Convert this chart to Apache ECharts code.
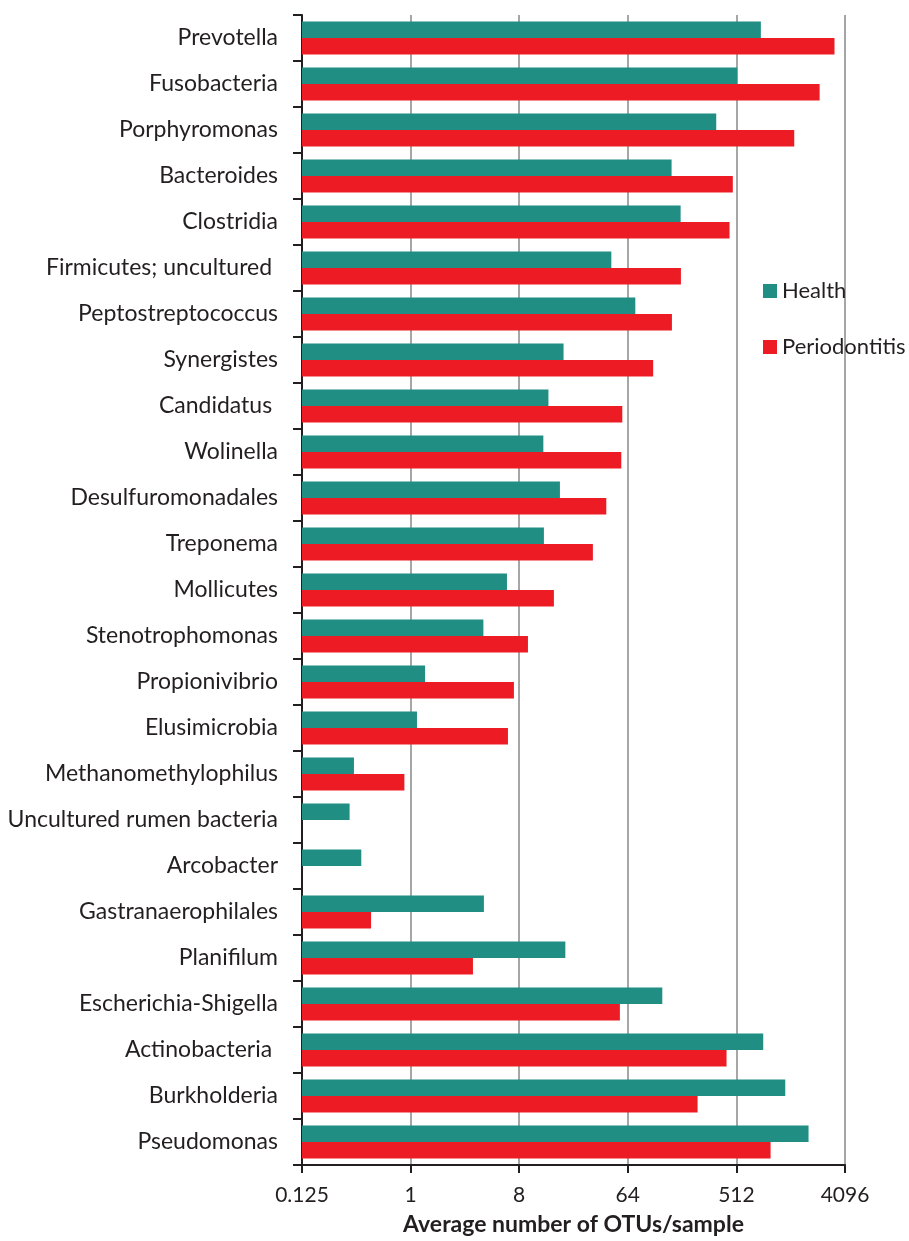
<!DOCTYPE html>
<html>
<head>
<meta charset="utf-8">
<script src="https://cdn.jsdelivr.net/npm/echarts@6/dist/echarts.min.js"></script>
<style>
  html, body { margin: 0; padding: 0; background: #ffffff; }
  #chart { width: 909px; height: 1241px; }
</style>
</head>
<body>
<div id="chart"></div>
<script>
// Genera, top to bottom
const categories = [
  'Prevotella', 'Fusobacteria', 'Porphyromonas', 'Bacteroides', 'Clostridia',
  'Firmicutes; uncultured ', 'Peptostreptococcus', 'Synergistes', 'Candidatus ',
  'Wolinella', 'Desulfuromonadales', 'Treponema', 'Mollicutes', 'Stenotrophomonas',
  'Propionivibrio', 'Elusimicrobia', 'Methanomethylophilus', 'Uncultured rumen bacteria',
  'Arcobacter', 'Gastranaerophilales', 'Planifilum', 'Escherichia-Shigella',
  'Actinobacteria ', 'Burkholderia', 'Pseudomonas'
];

// Average number of OTUs per sample
const health = [
  818, 520, 348, 148, 176,
  46.7, 73.9, 18.7, 14.0,
  12.7, 17.45, 12.84, 6.33, 4.03,
  1.32, 1.13, 0.338, 0.311,
  0.389, 4.07, 19.35, 123.9,
  856, 1305, 2038
];

const periodontitis = [
  3350, 2520, 1550, 478, 449,
  177, 149, 104, 57.6,
  56.5, 42.4, 32.8, 15.55, 9.46,
  7.23, 6.45, 0.888, null,
  null, 0.469, 3.30, 55.0,
  424, 243.5, 985
];

// Log2 axis: ticks every factor of 8
const axisMin = 0.125;
const axisMax = 4096;
const tickStepLog2 = 3;

const seriesNames = ['Health', 'Periodontitis'];
const colors = ['#218E84', '#ED1C24'];

const FONT = 'Lato';
const TEXT = '#231F20';

const chart = echarts.init(document.getElementById('chart'), null, { renderer: 'canvas' });

chart.setOption({
  backgroundColor: '#ffffff',
  animation: false,
  color: colors,
  textStyle: { fontFamily: FONT, color: TEXT },
  grid: { left: 302, right: 64, top: 15, bottom: 70, containLabel: false },
  legend: {
    data: seriesNames,
    orient: 'vertical',
    left: 763,
    top: 280,
    padding: 0,
    itemWidth: 14,
    itemHeight: 14,
    itemGap: 34,
    icon: 'rect',
    textStyle: { fontFamily: FONT, fontSize: 22, color: TEXT, lineHeight: 20 }
  },
  xAxis: {
    type: 'log',
    logBase: 2,
    min: axisMin,
    max: axisMax,
    interval: tickStepLog2,
    startValue: axisMin,
    name: 'Average number of OTUs/sample',
    nameLocation: 'middle',
    nameGap: 48,
    nameTextStyle: { fontFamily: FONT, fontSize: 23, fontWeight: 'bold', color: TEXT },
    axisLine: { show: true, lineStyle: { color: TEXT, width: 2 } },
    axisTick: { show: true, length: 8, lineStyle: { color: TEXT, width: 2 } },
    axisLabel: {
      margin: 20,
      fontFamily: FONT,
      fontSize: 21,
      color: TEXT,
      formatter: v => String(parseFloat(Number(v).toPrecision(6)))
    },
    splitLine: { show: true, lineStyle: { color: '#A6A6A6', width: 2 } },
    minorTick: { show: false },
    minorSplitLine: { show: false }
  },
  yAxis: {
    type: 'category',
    data: categories,
    inverse: true,
    axisLine: { show: true, lineStyle: { color: TEXT, width: 2 } },
    axisTick: { show: true, length: 9, lineStyle: { color: TEXT, width: 2 } },
    axisLabel: { margin: 24, fontFamily: FONT, fontSize: 23, color: TEXT },
    splitLine: { show: false }
  },
  series: [
    {
      name: seriesNames[0],
      type: 'bar',
      data: health,
      barGap: '0%',
      barCategoryGap: '28%',
      itemStyle: { color: colors[0] }
    },
    {
      name: seriesNames[1],
      type: 'bar',
      data: periodontitis,
      barGap: '0%',
      barCategoryGap: '28%',
      itemStyle: { color: colors[1] }
    }
  ]
});
</script>
</body>
</html>
